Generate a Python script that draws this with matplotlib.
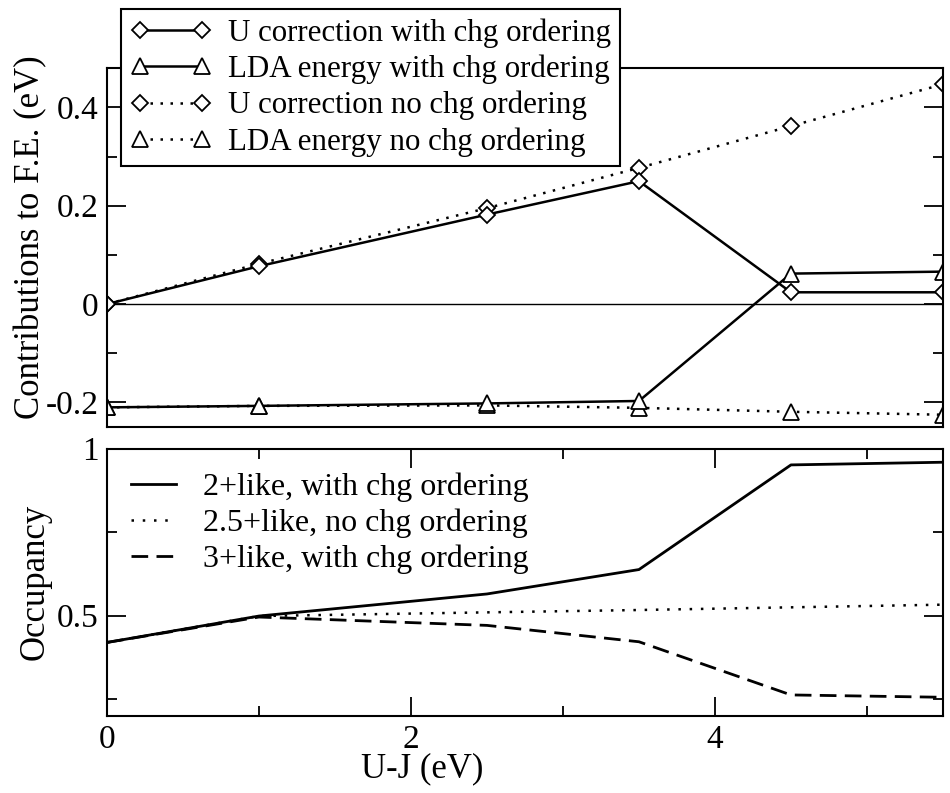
import numpy as np
import matplotlib
matplotlib.use("Agg")
import matplotlib.pyplot as plt
from matplotlib.ticker import MultipleLocator

plt.rcParams['font.family'] = ['Liberation Serif', 'DejaVu Serif']

# U-J values (eV)
uj = [0, 1, 2.5, 3.5, 4.5, 5.5]

# contributions to free energy (eV)
u_corr_chg = [0.0, 0.077, 0.182, 0.250, 0.024, 0.024]
lda_chg = [-0.210, -0.207, -0.202, -0.197, 0.062, 0.066]
u_corr_nochg = [0.0, 0.082, 0.195, 0.277, 0.362, 0.447]
lda_nochg = [-0.210, -0.207, -0.206, -0.211, -0.219, -0.225]

# occupancies
occ_2plus = [0.42, 0.499, 0.565, 0.638, 0.951, 0.959]
occ_25plus = [0.42, 0.499, 0.510, 0.517, 0.525, 0.533]
occ_3plus = [0.42, 0.496, 0.471, 0.422, 0.263, 0.256]

fig = plt.figure(figsize=(9.5, 7.93), dpi=100)
ax1 = fig.add_axes([0.1126, 0.4615, 0.88, 0.4527])
ax2 = fig.add_axes([0.1126, 0.0971, 0.88, 0.3373])

lw = 1.8
mk = dict(markerfacecolor='white', markeredgecolor='black', markeredgewidth=1.3)
dot = (0, (1, 3))

ax1.axhline(0, color='black', lw=1.0, zorder=1)
ax1.plot(uj, u_corr_nochg, color='black', lw=lw, ls=dot, marker='D', ms=8,
         label='U correction no chg ordering', **mk)
ax1.plot(uj, lda_nochg, color='black', lw=lw, ls=dot, marker='^', ms=11,
         label='LDA energy no chg ordering', **mk)
ax1.plot(uj, u_corr_chg, color='black', lw=lw, ls='-', marker='D', ms=8,
         label='U correction with chg ordering', **mk)
ax1.plot(uj, lda_chg, color='black', lw=lw, ls='-', marker='^', ms=11,
         label='LDA energy with chg ordering', **mk)

ax1.set_xlim(0, 5.5)
ax1.set_ylim(-0.25, 0.48)
ax1.yaxis.set_minor_locator(MultipleLocator(0.1))
ax1.set_yticks([-0.2, 0, 0.2, 0.4])
ax1.set_yticklabels(['-0.2', '0', '0.2', '0.4'])
ax1.set_xticks([])
ax1.tick_params(axis='y', which='major', direction='in', length=14, width=1.3,
                left=True, right=True, labelsize=24, pad=6)
ax1.tick_params(axis='y', which='minor', direction='in', length=7, width=1.3,
                left=True, right=True)
ax1.set_ylabel('Contributions to F.E. (eV)', fontsize=25)
ax1.yaxis.set_label_coords(-0.071, 0.53)

h, l = ax1.get_legend_handles_labels()
order = [2, 3, 0, 1]
leg = ax1.legend([h[i] for i in order], [l[i] for i in order],
                 loc='upper left', bbox_to_anchor=(121 / 950, 1 - 9 / 793),
                 bbox_transform=fig.transFigure, borderaxespad=0,
                 fontsize=22.3, numpoints=2, handlelength=2.6, handletextpad=0.55,
                 labelspacing=0.22, borderpad=0.3, fancybox=False, framealpha=1,
                 edgecolor='black')
leg.get_frame().set_linewidth(1.5)

ax2.plot(uj, occ_2plus, color='black', lw=2.0, ls='-',
         label='2+like, with chg ordering')
ax2.plot(uj, occ_25plus, color='black', lw=1.8, ls=(0, (1, 3.5)),
         label='2.5+like, no chg ordering')
ax2.plot(uj, occ_3plus, color='black', lw=2.0, ls=(0, (6, 3)),
         label='3+like, with chg ordering')

ax2.set_xlim(0, 5.5)
ax2.set_ylim(0.2, 1.0)
ax2.set_yticks([0.5, 1.0])
ax2.set_yticklabels(['0.5', '1'])
ax2.yaxis.set_minor_locator(MultipleLocator(0.25))
ax2.set_xticks([0, 2, 4])
ax2.xaxis.set_minor_locator(MultipleLocator(1))
ax2.tick_params(which='major', direction='in', length=14, width=1.3,
                left=True, right=True, top=True, bottom=True, labelsize=24, pad=6)
ax2.tick_params(which='minor', direction='in', length=7, width=1.3,
                left=True, right=True, top=True, bottom=True)
ax2.set_ylabel('Occupancy', fontsize=25)
ax2.yaxis.set_label_coords(-0.066, 0.5)
ax2.set_xlabel('U-J (eV)', fontsize=25)
ax2.xaxis.set_label_coords(0.377, -0.135)

ax2.legend(loc='upper left', frameon=False, fontsize=23, handlelength=1.4,
           handletextpad=0.85, labelspacing=0.2, borderaxespad=0.35)

for ax in (ax1, ax2):
    for s in ax.spines.values():
        s.set_linewidth(1.5)

fig.savefig('out.png', dpi=100)
